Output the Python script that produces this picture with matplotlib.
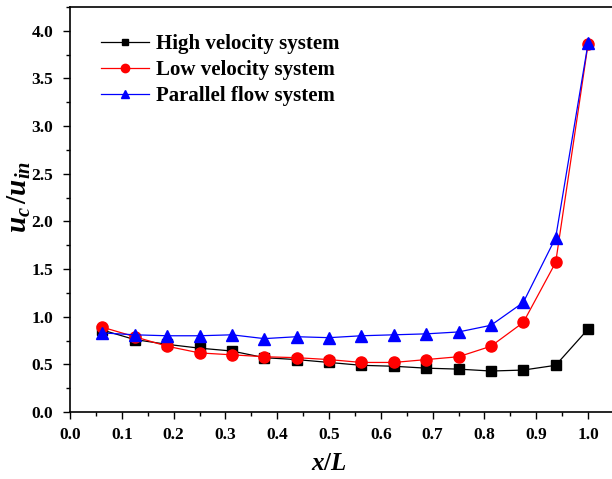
import numpy as np
import matplotlib
matplotlib.use('Agg')
import matplotlib.pyplot as plt
from matplotlib.ticker import MultipleLocator

plt.rcParams['font.family'] = ['Liberation Serif', 'DejaVu Serif']
plt.rcParams['font.weight'] = 'bold'
plt.rcParams['mathtext.fontset'] = 'custom'
plt.rcParams['mathtext.it'] = 'Liberation Serif:bold:italic'
plt.rcParams['mathtext.rm'] = 'Liberation Serif:bold'
plt.rcParams['mathtext.bf'] = 'Liberation Serif:bold'

# положения сечений x/L
x_pos = [0.0625, 0.125, 0.1875, 0.25, 0.3125, 0.375, 0.4375, 0.5,
         0.5625, 0.625, 0.6875, 0.75, 0.8125, 0.875, 0.9375, 1.0]

high_vel = [0.86, 0.76, 0.71, 0.67, 0.64, 0.57, 0.55, 0.52,
            0.49, 0.48, 0.46, 0.45, 0.43, 0.44, 0.49, 0.87]
low_vel = [0.89, 0.79, 0.69, 0.62, 0.60, 0.58, 0.57, 0.55,
           0.52, 0.52, 0.55, 0.58, 0.69, 0.94, 1.57, 3.86]
parallel = [0.83, 0.81, 0.80, 0.80, 0.81, 0.77, 0.79, 0.78,
            0.80, 0.81, 0.82, 0.84, 0.91, 1.15, 1.83, 3.87]

fig = plt.figure(figsize=(6.12, 4.79), dpi=100)
ax = fig.add_axes([70 / 612, 67 / 479, 545 / 612, 405 / 479])

ax.plot(x_pos, high_vel, color='black', marker='s', ms=6.5, lw=0.9,
        label='High velocity system')
ax.plot(x_pos, low_vel, color='red', marker='o', ms=8, lw=0.9,
        label='Low velocity system')
ax.plot(x_pos, parallel, color='blue', marker='^', ms=8.5, lw=0.9,
        label='Parallel flow system')

ax.set_xlim(0, 1.052)
ax.set_ylim(0, 4.25)
ax.xaxis.set_minor_locator(MultipleLocator(0.05))
ax.yaxis.set_major_locator(MultipleLocator(0.5))
ax.yaxis.set_minor_locator(MultipleLocator(0.25))
ax.set_xticks(np.arange(0, 1.01, 0.1))
ax.set_xticklabels([f'{v:.1f}' for v in np.arange(0, 1.01, 0.1)])
ax.tick_params(which='major', direction='out', length=5, width=1,
               labelsize=12.5, pad=6)
ax.tick_params(which='minor', direction='out', length=3, width=1)
ax.tick_params(axis='y', which='major', pad=7)
for lab in ax.get_xticklabels() + ax.get_yticklabels():
    lab.set_fontweight('bold')
for sp in ax.spines.values():
    sp.set_linewidth(1.2)

ax.set_xlabel(r'$x/L$', fontsize=18)
ax.xaxis.set_label_coords(0.476, -0.1)
ax.set_ylabel(r'$u_c\,/u_{in}$', fontsize=21)
ax.yaxis.set_label_coords(-0.068, 0.53)

ax.legend(loc='upper left', bbox_to_anchor=(0.022, 0.98), frameon=False,
          prop={'family': 'Liberation Serif', 'weight': 'bold', 'size': 15},
          markerscale=0.75, handlelength=2.3, handletextpad=0.35,
          labelspacing=0.3)

fig.savefig('out.png', dpi=100)
